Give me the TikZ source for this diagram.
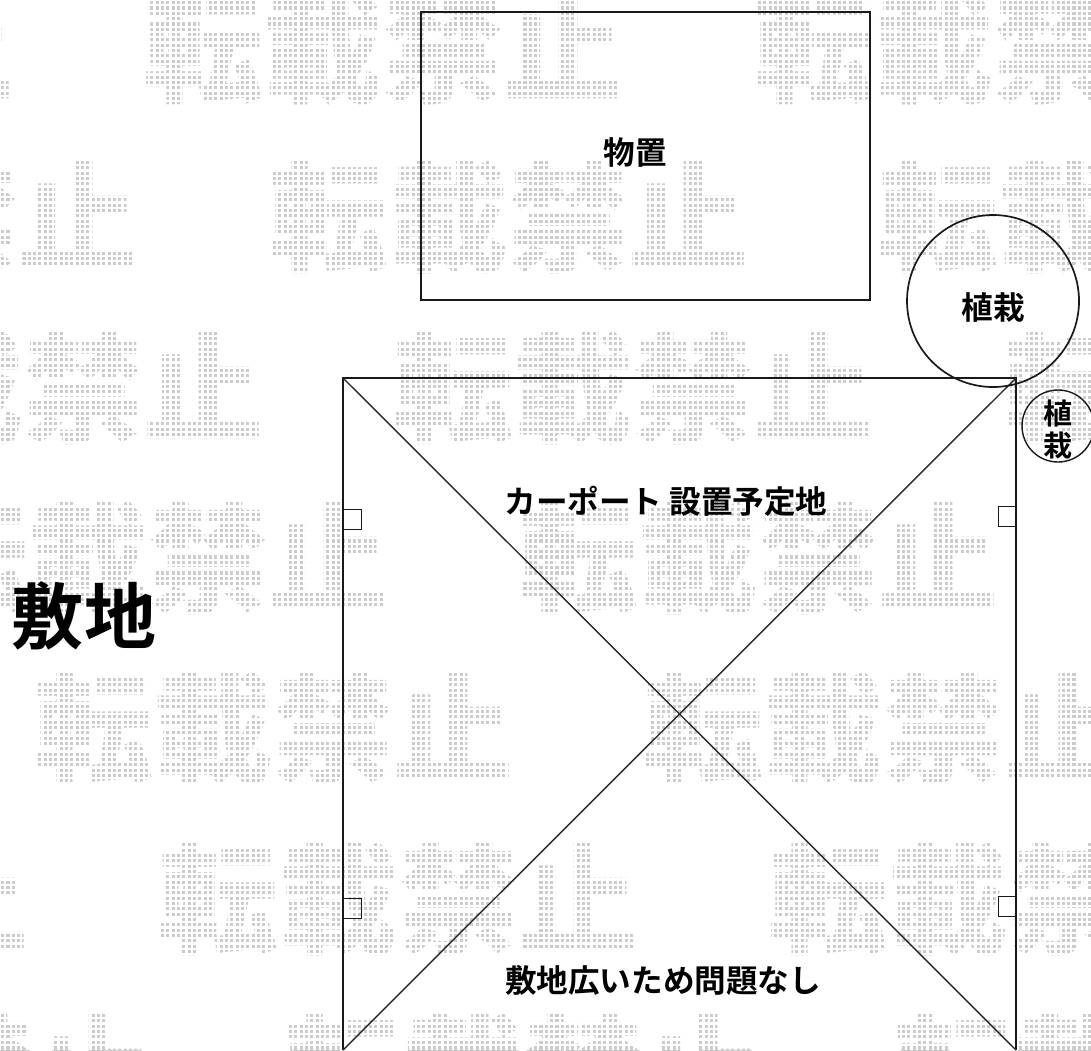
\documentclass[tikz,border=0pt]{standalone}
\usepackage{fontspec}
\setmainfont{Noto Sans CJK JP}
\newfontfamily\jpb{Noto Sans CJK JP Bold}
\newfontfamily\jpk{Noto Sans CJK JP Black}
\newcommand{\wm}[2]{\node[wmark] at (#1,#2) {転載禁止};}
\tikzset{
  wmark/.style={anchor=west,inner sep=0pt,text=black!20,font=\jpk\fontsize{120}{120}\selectfont},
  site/.style={draw=black!90,line width=1.7pt},
  thin line/.style={draw=black!85,line width=1.4pt},
  wbox/.style={draw=black!90,line width=1.4pt,minimum width=18pt,minimum height=20pt,inner sep=0pt,anchor=north west},
  lbl/.style={inner sep=0pt,text=black,font=\jpb\fontsize{31.6}{32}\selectfont},
  smalllbl/.style={inner sep=0pt,text=black,font=\jpb\fontsize{29}{32}\selectfont,align=center},
  bigl/.style={inner sep=0pt,text=black,font=\jpb\fontsize{72}{72}\selectfont},
}
\begin{document}
\begin{tikzpicture}[x=1pt,y=-1pt]
\useasboundingbox (0,0) rectangle (1091,1050);
\begin{scope}
\clip (0,0) rectangle (1091,1050);
\foreach \yy/\off in {48/143,217/268,388/393,558/518,728/33,899/158,1070/283}{
  \foreach \k in {-1,0,1}{
    \wm{\off+610*\k}{\yy}
  }
}
\draw[white,line width=2.3pt] (0,0) grid[step=5.33pt] (1091,1050);
\end{scope}
\node[bigl] (site) at (84,616) {敷地};
\node[site,minimum width=449pt,minimum height=288pt,inner sep=0pt] (store) at (645.5,156) {};
\node[lbl] (storelbl) at (635,152) {物置};
\coordinate (a) at (343,378);
\coordinate (b) at (1016,378);
\coordinate (c) at (1016,1050);
\coordinate (d) at (343,1050);
\draw[site] (d) -- (a) -- (b) -- (c);
\draw[thin line] (a) -- (c);
\draw[thin line] (b) -- (d);
\foreach \nm/\x/\y in {w1/343/509,w3/343/898,w2/998/506,w4/998/896}{
  \node[wbox] (\nm) at (\x,\y) {};
}
\node[site,circle,minimum size=172pt,inner sep=0pt] (tree) at (993,301) {};
\node[lbl] (treelbl) at (993,307) {植栽};
\node[site,line width=1.4pt,circle,minimum size=72pt,inner sep=0pt] (tree2) at (1058,426) {};
\node[smalllbl] (tree2lbl) at (1058,429) {植\\栽};
\node[lbl] (port) at (666,501) {カーポート 設置予定地};
\node[lbl] (ok) at (663,980) {敷地広いため問題なし};
\end{tikzpicture}
\end{document}
